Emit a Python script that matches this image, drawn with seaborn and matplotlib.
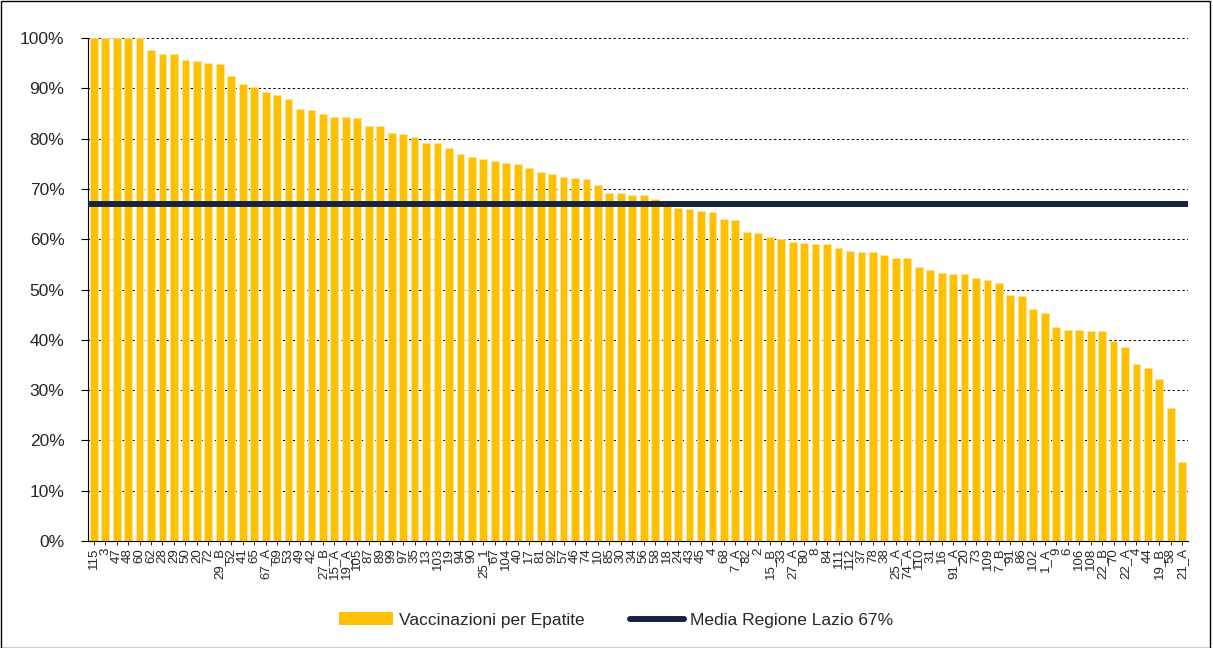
import matplotlib
matplotlib.use("Agg")
import matplotlib.pyplot as plt
import seaborn as sns
import pandas as pd
from matplotlib.patches import Patch, Rectangle
from matplotlib.lines import Line2D
from matplotlib.ticker import FuncFormatter, MultipleLocator

labels = ["115", "3", "47", "48", "60", "62", "28", "29", "50", "20", "72", "29_B",
          "52", "41", "65", "67_A", "69", "53", "49", "42", "27_B", "15_A", "19_A", "105",
          "87", "89", "99", "97", "35", "13", "103", "19", "94", "90", "25_1", "67",
          "104", "40", "17", "81", "92", "57", "46", "74", "10", "85", "30", "34",
          "56", "58", "18", "24", "43", "45", "4", "68", "7_A", "82", "2", "15_B",
          "33", "27_A", "80", "8", "84", "111", "112", "37", "78", "38", "25_A", "74_A",
          "110", "31", "16", "91_A", "20", "73", "109", "7_B", "91", "86", "102", "1_A",
          "9", "6", "106", "108", "22_B", "70", "22_A", "4", "44", "19_B", "58", "21_A"]

vaccinazioni = [100, 100, 100, 100, 100, 97.6, 96.9, 96.8, 95.6, 95.4, 95.0, 94.9,
                92.4, 90.8, 90.2, 89.3, 88.7, 87.9, 85.8, 85.6, 84.8, 84.3, 84.3, 84.0,
                82.6, 82.5, 81.2, 81.0, 80.3, 79.1, 79.1, 78.1, 76.9, 76.3, 75.9, 75.6,
                75.1, 74.9, 74.2, 73.4, 73.0, 72.4, 72.1, 71.9, 70.8, 69.2, 69.2, 68.8,
                68.7, 67.9, 67.2, 66.3, 66.0, 65.6, 65.4, 64.0, 63.8, 61.5, 61.2, 60.5,
                60.0, 59.5, 59.2, 59.0, 59.0, 58.3, 57.7, 57.5, 57.5, 56.9, 56.3, 56.3,
                54.5, 53.9, 53.2, 53.1, 53.1, 52.3, 51.8, 51.2, 48.9, 48.7, 46.1, 45.3,
                42.6, 41.9, 41.9, 41.7, 41.7, 39.7, 38.5, 35.1, 34.3, 32.3, 26.5, 15.8]

media_lazio = 67.0
series_names = ["Vaccinazioni per Epatite", "Media Regione Lazio 67%"]

BAR_COLOR = "#FFC000"
LINE_COLOR = "#14253D"

sns.set_theme(style="white")
plt.rcParams["font.family"] = ["Liberation Sans", "DejaVu Sans"]

df = pd.DataFrame({"pos": list(range(len(labels))), "val": vaccinazioni})

fig = plt.figure(figsize=(12.13, 6.48), dpi=100)
ax = fig.add_axes([88 / 1213, 1 - 541 / 648, 1100 / 1213, 503 / 648])

sns.barplot(data=df, x="pos", y="val", color=BAR_COLOR, width=0.68,
            saturation=1, ax=ax, zorder=2, edgecolor="#FFE49A", linewidth=0.6)
ax.plot([-0.5, len(labels) - 0.5], [media_lazio, media_lazio],
        color=LINE_COLOR, lw=4.3, zorder=3, solid_capstyle="butt")

ax.set_xlim(-0.5, len(labels) - 0.5)
ax.set_ylim(0, 100)
ax.yaxis.set_major_locator(MultipleLocator(10))
ax.yaxis.set_major_formatter(FuncFormatter(lambda v, p: f"{int(round(v))}%"))
ax.set_xticks(range(len(labels)))
ax.set_xticklabels(labels, rotation=90, fontsize=9.5)
ax.tick_params(axis="y", labelsize=12.5, length=5, width=0.8, color="black",
               left=True, pad=12)
ax.tick_params(axis="x", length=3, width=0.6, color="black", bottom=True, pad=2)
ax.set_xlabel("")
ax.set_ylabel("")

ax.grid(axis="y", color="black", linestyle=(0, (2.5, 2.5)), linewidth=0.7, zorder=0)
ax.set_axisbelow(True)
for s in ["top", "right"]:
    ax.spines[s].set_visible(False)
for s in ["left", "bottom"]:
    ax.spines[s].set_color("black")
    ax.spines[s].set_linewidth(0.8)

handles = [Patch(facecolor=BAR_COLOR, edgecolor="none"),
           Line2D([0], [0], color=LINE_COLOR, lw=4.3)]
fig.legend(handles, series_names, loc="center", bbox_to_anchor=(616 / 1213, 1 - 620 / 648),
           ncol=2, frameon=False, fontsize=12.5, handlelength=3.1, handleheight=0.8,
           columnspacing=2.6, handletextpad=0.35)

fig.patches.append(Rectangle((0.5 / 1213, 0), 1 - 3.5 / 1213, 1 - 1 / 648,
                             transform=fig.transFigure, fill=False,
                             edgecolor="black", linewidth=1.0))

fig.savefig("out.png", dpi=100)
